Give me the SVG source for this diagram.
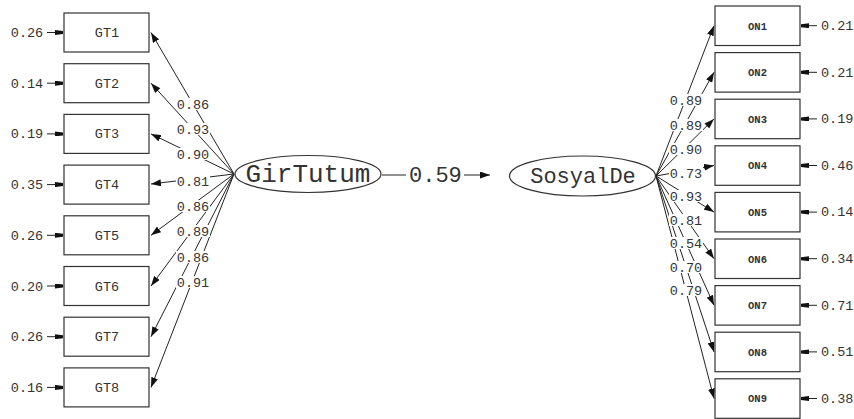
<svg xmlns="http://www.w3.org/2000/svg" width="854" height="419" viewBox="0 0 854 419">
<defs>
<marker id="ah" markerUnits="userSpaceOnUse" markerWidth="11" markerHeight="7" refX="10" refY="3.5" orient="auto"><path d="M0,0 L10,3.5 L0,7 z" fill="#111"/></marker>
<marker id="eh" markerUnits="userSpaceOnUse" markerWidth="9" markerHeight="5" refX="8" refY="2.5" orient="auto"><path d="M0,0 L8,1 L8,4 L0,5 z" fill="#111"/></marker>
</defs>
<style>
.box{fill:#fff;stroke:#333;stroke-width:1.2}
.ell{fill:#fff;stroke:#333;stroke-width:1.2}
.ln{stroke:#222;stroke-width:1;fill:none;marker-end:url(#ah)}
.er{stroke:#222;stroke-width:1;fill:none;marker-end:url(#eh)}
.t{font-family:"Liberation Mono","DejaVu Sans Mono",monospace;fill:#333}
.lab{font-size:13.5px;text-anchor:middle}
.bg{fill:#fff}
.nm{font-size:13.5px;text-anchor:middle}
.on{font-size:10.5px;font-weight:bold;text-anchor:middle}
</style>
<g id="connectors">
<line class="ln" x1="234" y1="174" x2="151" y2="32.5"/>
<line class="ln" x1="234" y1="174" x2="151" y2="83.2"/>
<line class="ln" x1="234" y1="174" x2="151" y2="133.9"/>
<line class="ln" x1="234" y1="174" x2="151" y2="184"/>
<line class="ln" x1="234" y1="174" x2="151" y2="235.3"/>
<line class="ln" x1="234" y1="174" x2="151" y2="286"/>
<line class="ln" x1="234" y1="174" x2="151" y2="336.7"/>
<line class="ln" x1="234" y1="174" x2="151" y2="387.4"/>
<line class="er" x1="47" y1="32.5" x2="63" y2="32.5"/>
<line class="er" x1="47" y1="83.2" x2="63" y2="83.2"/>
<line class="er" x1="47" y1="133.9" x2="63" y2="133.9"/>
<line class="er" x1="47" y1="184.6" x2="63" y2="184.6"/>
<line class="er" x1="47" y1="235.3" x2="63" y2="235.3"/>
<line class="er" x1="47" y1="286" x2="63" y2="286"/>
<line class="er" x1="47" y1="336.7" x2="63" y2="336.7"/>
<line class="er" x1="47" y1="387.4" x2="63" y2="387.4"/>
<line class="ln" x1="656" y1="176" x2="714" y2="25.7"/>
<line class="ln" x1="656" y1="176" x2="714" y2="72.3"/>
<line class="ln" x1="656" y1="176" x2="714" y2="118.9"/>
<line class="ln" x1="656" y1="176" x2="714" y2="165.5"/>
<line class="ln" x1="656" y1="176" x2="714" y2="212.1"/>
<line class="ln" x1="656" y1="176" x2="714" y2="258.7"/>
<line class="ln" x1="656" y1="176" x2="714" y2="305.3"/>
<line class="ln" x1="656" y1="176" x2="714" y2="351.9"/>
<line class="ln" x1="656" y1="176" x2="714" y2="398.5"/>
<line class="er" x1="817" y1="25.7" x2="801" y2="25.7"/>
<line class="er" x1="817" y1="72.3" x2="801" y2="72.3"/>
<line class="er" x1="817" y1="118.9" x2="801" y2="118.9"/>
<line class="er" x1="817" y1="165.5" x2="801" y2="165.5"/>
<line class="er" x1="817" y1="212.1" x2="801" y2="212.1"/>
<line class="er" x1="817" y1="258.7" x2="801" y2="258.7"/>
<line class="er" x1="817" y1="305.3" x2="801" y2="305.3"/>
<line class="er" x1="817" y1="351.9" x2="801" y2="351.9"/>
<line class="er" x1="817" y1="398.5" x2="801" y2="398.5"/>
<line stroke="#222" stroke-width="1" x1="382" y1="175" x2="406" y2="175"/>
<line class="ln" x1="464" y1="175" x2="490" y2="175"/>
<g id="loading-labels">
<rect class="bg" x="176" y="98" width="34" height="12"/>
<rect class="bg" x="176" y="123" width="34" height="12"/>
<rect class="bg" x="176" y="148" width="34" height="12"/>
<rect class="bg" x="176" y="175" width="34" height="12"/>
<rect class="bg" x="176" y="200" width="34" height="12"/>
<rect class="bg" x="176" y="225" width="34" height="12"/>
<rect class="bg" x="176" y="251" width="34" height="12"/>
<rect class="bg" x="176" y="276" width="34" height="12"/>
<text class="t lab" x="193" y="108.5">0.86</text>
<text class="t lab" x="193" y="133.5">0.93</text>
<text class="t lab" x="193" y="158.5">0.90</text>
<text class="t lab" x="193" y="185.5">0.81</text>
<text class="t lab" x="193" y="210.5">0.86</text>
<text class="t lab" x="193" y="235.5">0.89</text>
<text class="t lab" x="193" y="261.5">0.86</text>
<text class="t lab" x="193" y="286.5">0.91</text>
<rect class="bg" x="669" y="94" width="34" height="12"/>
<rect class="bg" x="669" y="119" width="34" height="12"/>
<rect class="bg" x="669" y="143" width="34" height="12"/>
<rect class="bg" x="669" y="167" width="34" height="12"/>
<rect class="bg" x="669" y="190" width="34" height="12"/>
<rect class="bg" x="669" y="214" width="34" height="12"/>
<rect class="bg" x="669" y="237" width="34" height="12"/>
<rect class="bg" x="669" y="261" width="34" height="12"/>
<rect class="bg" x="669" y="284" width="34" height="12"/>
<text class="t lab" x="686" y="104.5">0.89</text>
<text class="t lab" x="686" y="129.5">0.89</text>
<text class="t lab" x="686" y="153.5">0.90</text>
<text class="t lab" x="686" y="177.5">0.73</text>
<text class="t lab" x="686" y="200.5">0.93</text>
<text class="t lab" x="686" y="224.5">0.81</text>
<text class="t lab" x="686" y="247.5">0.54</text>
<text class="t lab" x="686" y="271.5">0.70</text>
<text class="t lab" x="686" y="294.5">0.79</text>
<text class="t" x="409" y="182" font-size="22px">0.59</text>
</g>
</g>
<g id="GirTutum"><ellipse class="ell" cx="308" cy="174" rx="73" ry="18.5"/><text class="t" x="308" y="182" font-size="26px" text-anchor="middle">GirTutum</text></g>
<g id="SosyalDe"><ellipse class="ell" cx="582.5" cy="176" rx="73" ry="20"/><text class="t" x="583" y="183" font-size="22px" text-anchor="middle">SosyalDe</text></g>
<g id="GT1"><rect class="box" x="64" y="13" width="85" height="39"/><text class="t nm" x="107" y="37">GT1</text><text class="t lab" x="27" y="37">0.26</text></g>
<g id="GT2"><rect class="box" x="64" y="63.7" width="85" height="39"/><text class="t nm" x="107" y="87.7">GT2</text><text class="t lab" x="27" y="87.7">0.14</text></g>
<g id="GT3"><rect class="box" x="64" y="114.4" width="85" height="39"/><text class="t nm" x="107" y="138.4">GT3</text><text class="t lab" x="27" y="138.4">0.19</text></g>
<g id="GT4"><rect class="box" x="64" y="165.1" width="85" height="39"/><text class="t nm" x="107" y="189.1">GT4</text><text class="t lab" x="27" y="189.1">0.35</text></g>
<g id="GT5"><rect class="box" x="64" y="215.8" width="85" height="39"/><text class="t nm" x="107" y="239.8">GT5</text><text class="t lab" x="27" y="239.8">0.26</text></g>
<g id="GT6"><rect class="box" x="64" y="266.5" width="85" height="39"/><text class="t nm" x="107" y="290.5">GT6</text><text class="t lab" x="27" y="290.5">0.20</text></g>
<g id="GT7"><rect class="box" x="64" y="317.2" width="85" height="39"/><text class="t nm" x="107" y="341.2">GT7</text><text class="t lab" x="27" y="341.2">0.26</text></g>
<g id="GT8"><rect class="box" x="64" y="367.9" width="85" height="39"/><text class="t nm" x="107" y="391.9">GT8</text><text class="t lab" x="27" y="391.9">0.16</text></g>
<g id="ON1"><rect class="box" x="715" y="6" width="85" height="39.5"/><text class="t on" x="757.5" y="29.5">ON1</text><text class="t" x="821" y="30" font-size="13.5px">0.21</text></g>
<g id="ON2"><rect class="box" x="715" y="52.6" width="85" height="39.5"/><text class="t on" x="757.5" y="76.1">ON2</text><text class="t" x="821" y="76.6" font-size="13.5px">0.21</text></g>
<g id="ON3"><rect class="box" x="715" y="99.2" width="85" height="39.5"/><text class="t on" x="757.5" y="122.7">ON3</text><text class="t" x="821" y="123.2" font-size="13.5px">0.19</text></g>
<g id="ON4"><rect class="box" x="715" y="145.8" width="85" height="39.5"/><text class="t on" x="757.5" y="169.3">ON4</text><text class="t" x="821" y="169.8" font-size="13.5px">0.46</text></g>
<g id="ON5"><rect class="box" x="715" y="192.4" width="85" height="39.5"/><text class="t on" x="757.5" y="215.9">ON5</text><text class="t" x="821" y="216.4" font-size="13.5px">0.14</text></g>
<g id="ON6"><rect class="box" x="715" y="239" width="85" height="39.5"/><text class="t on" x="757.5" y="262.5">ON6</text><text class="t" x="821" y="263" font-size="13.5px">0.34</text></g>
<g id="ON7"><rect class="box" x="715" y="285.6" width="85" height="39.5"/><text class="t on" x="757.5" y="309.1">ON7</text><text class="t" x="821" y="309.6" font-size="13.5px">0.71</text></g>
<g id="ON8"><rect class="box" x="715" y="332.2" width="85" height="39.5"/><text class="t on" x="757.5" y="355.7">ON8</text><text class="t" x="821" y="356.2" font-size="13.5px">0.51</text></g>
<g id="ON9"><rect class="box" x="715" y="378.8" width="85" height="39.5"/><text class="t on" x="757.5" y="402.3">ON9</text><text class="t" x="821" y="402.8" font-size="13.5px">0.38</text></g>
</svg>
